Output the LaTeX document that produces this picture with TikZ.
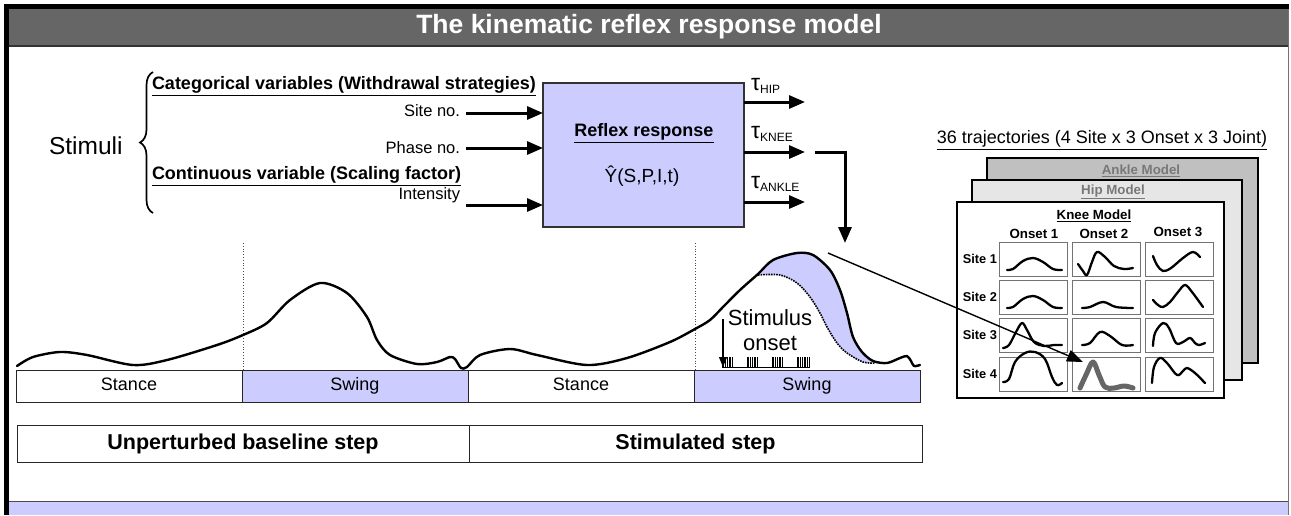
\documentclass[tikz,border=0pt]{standalone}
\usepackage{fontspec}
\setmainfont{Liberation Sans}
\usetikzlibrary{arrows.meta,decorations.pathreplacing}
\definecolor{lblue}{RGB}{204,204,255}
\definecolor{tgray}{RGB}{102,102,102}
\definecolor{ankleg}{RGB}{192,192,192}
\definecolor{hipg}{RGB}{230,230,230}
\definecolor{labg}{RGB}{120,120,120}
\tikzset{
  txt/.style={inner sep=0pt, outer sep=0pt},
  f16/.style={txt, font=\fontsize{16.5}{19}\selectfont},
  f18/.style={txt, font=\fontsize{18}{21}\selectfont},
  f18b/.style={txt, font=\fontsize{18}{21}\selectfont\bfseries},
  f22/.style={txt, font=\fontsize{22}{25}\selectfont},
  f24/.style={txt, font=\fontsize{24.5}{28}\selectfont},
  f13b/.style={txt, font=\fontsize{13.3}{15}\selectfont\bfseries},
  f12b/.style={txt, font=\fontsize{12.8}{15}\selectfont\bfseries},
  titletxt/.style={txt, font=\fontsize{26.5}{30}\selectfont\bfseries, text=white},
  bigarr/.style={line width=3pt, -{Triangle[length=16pt,width=13pt]}},
  thinarr/.style={line width=1.4pt, -{Triangle[length=16pt,width=12pt]}},
  smallarr/.style={line width=1.2pt, -{Triangle[length=10pt,width=8pt]}},
  phase/.style={draw=black!85, line width=1pt, minimum width=226, minimum height=32, inner sep=0pt, outer sep=0pt, text height=13pt, text depth=4pt, font=\fontsize{18}{21}\selectfont},
  stepbox/.style={draw=black!85, line width=1pt, minimum height=37, inner sep=0pt, outer sep=0pt, text height=16pt, text depth=5pt, font=\fontsize{21.5}{24}\selectfont\bfseries},
  model/.style={draw=black, line width=2.6pt, inner sep=0pt, outer sep=0pt, anchor=north west},
  cell/.style={draw=black!55, line width=1pt, minimum width=68, minimum height=34, inner sep=0pt, outer sep=0pt, anchor=north west},
  gait/.style={line width=2.4pt, line join=round, line cap=round},
  ccurve/.style={line width=2.3pt, line cap=round, line join=round},
  vdot/.style={dotted, line width=0.8pt, black!70},
}
\begin{document}
\begin{tikzpicture}[x=1pt,y=-1pt]
\useasboundingbox (0,0) rectangle (1291,515);
\fill[white] (0,0) rectangle (1291,515);
% frame
\fill[lblue] (7,502) rectangle (1288,515);
\draw[line width=1.5pt, black!70] (7,501.5) -- (1288,501.5);
\draw[line width=1pt, black!55] (1288,9) -- (1288,515);
\fill[tgray] (8,9) rectangle (1288,45.5);
\draw[line width=2pt, black!80] (8,46) -- (1288,46);
\fill[black] (4,4) rectangle (1289,9);
\fill[black] (4,4) rectangle (8.5,515);
\node[titletxt] (title) at (649,27) {The kinematic reflex response model};

% stimuli
\node[f24, anchor=west] (stim) at (49,146) {Stimuli};
\draw[line width=1.7pt, decorate, decoration={brace, amplitude=13pt, aspect=0.5}] (153,213) -- (153,72);
\node[f18b, anchor=west] (cat) at (152,86) {\underline{Categorical variables (Withdrawal strategies)}};
\node[f16, anchor=east] (site) at (460,111) {Site no.};
\node[f16, anchor=east] (phs) at (460,148) {Phase no.};
\node[f18b, anchor=west] (cont) at (152,176) {\underline{Continuous variable (Scaling factor)}};
\node[f16, anchor=east] (ints) at (460,195) {Intensity};

% reflex box
\node[draw=black!80, line width=1.5pt, fill=lblue, minimum width=201, minimum height=144, inner sep=0pt, outer sep=0pt, anchor=north west] (box) at (543,83) {};
\node[f18b] (rr) at (644,133) {\underline{Reflex response}};
\node[txt, font=\fontsize{19}{22}\selectfont] (yhat) at (642,176) {Ŷ(S,P,I,t)};

\coordinate (a1) at (466,113);
\coordinate (a2) at (466,148);
\coordinate (a3) at (466,205);
\draw[bigarr] (a1) -- (a1 -| box.west);
\draw[bigarr] (a2) -- (a2 -| box.west);
\draw[bigarr] (a3) -- (a3 -| box.west);

\coordinate (o1) at (805,102);
\coordinate (o2) at (805,152);
\coordinate (o3) at (805,202);
\draw[bigarr] (box.east |- o1) -- (o1);
\draw[bigarr] (box.east |- o2) -- (o2);
\draw[bigarr] (box.east |- o3) -- (o3);

\node[txt, anchor=west] (thip) at (751,86) {\fontsize{23}{23}\selectfont τ\raisebox{-3pt}{\fontsize{12}{12}\selectfont HIP}};
\node[txt, anchor=west] (tknee) at (751,134) {\fontsize{23}{23}\selectfont τ\raisebox{-3pt}{\fontsize{12}{12}\selectfont KNEE}};
\node[txt, anchor=west] (tank) at (751,184) {\fontsize{23}{23}\selectfont τ\raisebox{-3pt}{\fontsize{12}{12}\selectfont ANKLE}};

\coordinate (e1) at (815,152);
\coordinate (e2) at (845,243);
\draw[bigarr] (e1) -| (e2);

% phase bars
\node[phase, fill=white, anchor=north west] (ph1) at (16,370) {Stance};
\node[phase, fill=lblue, anchor=north west] (ph2) at (242,370) {Swing};
\node[phase, fill=white, anchor=north west] (ph3) at (468,370) {Stance};
\node[phase, fill=lblue, anchor=north west] (ph4) at (694,370) {Swing};

\node[stepbox, minimum width=452, anchor=north west] (st1) at (17,425) {Unperturbed baseline step};
\node[stepbox, minimum width=453, anchor=north west] (st2) at (469,425) {Stimulated step};

\draw[vdot] (243,243) -- (243,370);
\draw[vdot] (695,243) -- (695,370);

% stimulated swing fill
\fill[lblue] plot[smooth, tension=0.55] coordinates {(758,274) (773,260) (797,253) (813,255) (830,270) (840,290) (847,313) (853,337) (862,352) (873,361)}
  -- plot[smooth, tension=0.55] coordinates {(873,363) (863,362) (847,353) (837,343) (827,327) (820,313) (810,297) (797,283) (780,275) (758,275)} -- cycle;
\draw[line width=1.6pt, densely dotted] plot[smooth, tension=0.55] coordinates {(758,275) (780,275) (797,283) (810,297) (820,313) (827,327) (837,343) (847,353) (863,362) (875,363)};

% gait curve
\draw[gait] plot[smooth, tension=0.5] coordinates {(17,366) (33,357) (60,352) (87,355) (133,365) (167,360) (217,345) (243,335) (267,323) (290,300) (320,283) (347,293) (367,317) (377,340) (390,355) (417,364) (437,362) (450,357) (455,359) (461,368) (467,367) (480,355) (510,349) (537,355) (587,365) (627,358) (670,342) (695,329) (710,320) (723,307) (740,290) (758,274) (773,260) (797,253) (813,255) (830,270) (840,290) (847,313) (853,337) (862,352) (873,361) (887,363) (900,358) (907,356) (911,361) (914,366) (920,365)};

% stimulus onset
\node[f22, align=center] (stimon) at (770,330) {Stimulus\\onset};
\coordinate (sa) at (723,319);
\coordinate (sb) at (723,367);
\draw[smallarr] (sa) -- (sb);
\foreach \g/\n in {722/6,747/6,772/6,797/7}{
  \foreach \i in {0,...,\n}{
    \draw[line width=0.6pt] (\g+\i*1.75,357) -- (\g+\i*1.75,367);
  }
}
\draw[line width=1pt] (722,367) -- (810,367);

% model stack
\node[f18, anchor=center] (traj) at (1102,140) {\underline{36 trajectories (4 Site x 3 Onset x 3 Joint)}};
\node[model, fill=ankleg, minimum width=271, minimum height=205] (ank) at (987,158) {};
\node[f13b, text=labg] (ankl) at (1141,171) {\underline{Ankle Model}};
\node[model, fill=hipg, minimum width=270, minimum height=200] (hip) at (972,180) {};
\node[f13b, text=labg] (hipl) at (1113,192) {\underline{Hip Model}};
\node[model, fill=white, minimum width=267, minimum height=196] (knee) at (957,202) {};
\node[f13b] (kneel) at (1094,216) {\underline{Knee Model}};

\node[f13b] (on1) at (1034,234) {Onset 1};
\node[f13b] (on2) at (1104,234) {Onset 2};
\node[f13b] (on3) at (1178,232) {Onset 3};

\foreach \r/\y in {1/242,2/280,3/318,4/357}{
  \node[f12b, anchor=east] (sl\r) at (997,\y+17) {Site \r};
  \foreach \c/\x in {1/999,2/1072,3/1145}{
    \node[cell] (c\r\c) at (\x,\y) {};
  }
}

\begin{scope}[shift={(c11.north west)}]
\draw[ccurve] plot[smooth, tension=0.6] coordinates {(8,28) (14,27) (24,19) (34,16) (44,20) (54,27) (63,28)};
\end{scope}
\begin{scope}[shift={(c12.north west)}]
\draw[ccurve] plot[smooth, tension=0.6] coordinates {(6,22) (11,29) (15,33) (20,20) (25,10) (33,15) (42,24) (52,27) (61,26)};
\end{scope}
\begin{scope}[shift={(c13.north west)}]
\draw[ccurve] plot[smooth, tension=0.6] coordinates {(8,14) (12,23) (18,29) (26,26) (38,16) (48,10) (55,15)};
\end{scope}
\begin{scope}[shift={(c21.north west)}]
\draw[ccurve] plot[smooth, tension=0.6] coordinates {(8,28) (14,27) (24,19) (34,16) (44,20) (54,27) (63,28)};
\end{scope}
\begin{scope}[shift={(c22.north west)}]
\draw[ccurve] plot[smooth, tension=0.6] coordinates {(10,28) (18,27) (31,22) (44,27) (61,28)};
\end{scope}
\begin{scope}[shift={(c23.north west)}]
\draw[ccurve] plot[smooth, tension=0.6] coordinates {(8,20) (13,25) (18,27) (25,22) (33,12) (40,5) (47,12) (58,27)};
\end{scope}
\begin{scope}[shift={(c31.north west)}]
\draw[ccurve] plot[smooth, tension=0.6] coordinates {(4,30) (10,27) (17,14) (23,5) (28,12) (35,24) (45,28) (55,27) (63,27)};
\end{scope}
\begin{scope}[shift={(c32.north west)}]
\draw[ccurve] plot[smooth, tension=0.6] coordinates {(10,27) (18,25) (28,14) (38,18) (50,27) (61,27)};
\end{scope}
\begin{scope}[shift={(c33.north west)}]
\draw[ccurve] plot[smooth, tension=0.6] coordinates {(8,28) (10,15) (18,5) (24,10) (31,25) (38,24) (45,20) (50,25) (54,27) (60,25)};
\end{scope}
\begin{scope}[shift={(c41.north west)}]
\draw[ccurve] plot[smooth, tension=0.6] coordinates {(4,25) (10,22) (16,5) (26,-4) (36,-5) (46,2) (53,20) (58,28) (63,26)};
\end{scope}
\begin{scope}[shift={(c42.north west)}]
\draw[ccurve, line width=5pt, draw=tgray] plot[smooth, tension=0.6] coordinates {(8,31) (14,18) (21,5) (27,18) (33,30) (42,31) (52,29) (61,31)};
\end{scope}
\begin{scope}[shift={(c43.north west)}]
\draw[ccurve] plot[smooth, tension=0.6] coordinates {(7,26) (9,10) (15,1) (22,6) (32,18) (38,14) (42,11) (50,16) (60,26)};
\end{scope}

% arrow from stimulated response to cell
\coordinate (pk) at (828,253);
\coordinate (tip) at (1083,362);
\draw[thinarr] (pk) -- (tip);
\end{tikzpicture}
\end{document}
